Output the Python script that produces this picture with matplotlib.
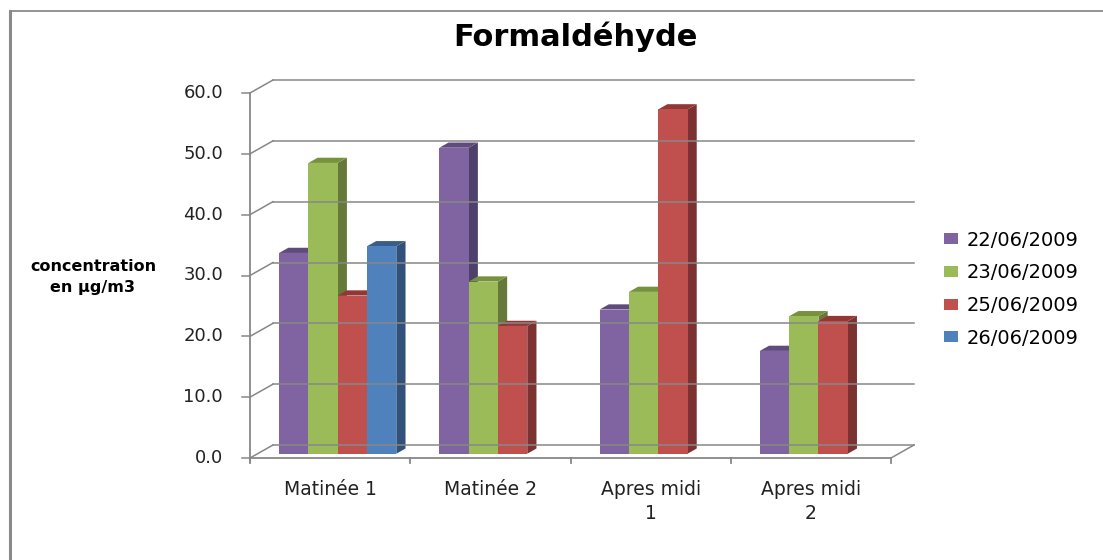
import numpy as np
import matplotlib.pyplot as plt
from matplotlib.patches import Polygon, Rectangle, Patch
from matplotlib.lines import Line2D

plt.rcParams['font.family'] = ['DejaVu Sans']

categories = ['Matinée 1', 'Matinée 2', 'Apres midi\n1', 'Apres midi\n2']
dates = ['22/06/2009', '23/06/2009', '25/06/2009', '26/06/2009']
values = {
    '22/06/2009': [33.0, 50.3, 23.7, 16.9],
    '23/06/2009': [47.8, 28.3, 26.6, 22.6],
    '25/06/2009': [26.0, 21.0, 56.6, 21.8],
    '26/06/2009': [34.1, None, None, None],
}
y_ticks = np.arange(0, 61, 10)

front_col = ['#8064A2', '#9BBB59', '#C0504D', '#4F81BD']
side_col = ['#4F3F6B', '#66793A', '#7B3231', '#30527A']
top_col = ['#5F4B7C', '#76923C', '#943634', '#385D8A']
grid_col = '#878787'

W, H = 1103, 560
fig = plt.figure(figsize=(W / 100, H / 100), dpi=100)
fig.patch.set_facecolor('white')

# front plane of the 3D box, in pixels
x_left, x_right, y_bot, y_top = 250, 891, 458, 93
ax = fig.add_axes([x_left / W, (H - y_bot) / H, (x_right - x_left) / W, (y_bot - y_top) / H])
ax.set_xlim(0, len(categories))
ax.set_ylim(0, 60)
ax.axis('off')

px_x = (x_right - x_left) / len(categories)
px_y = (y_bot - y_top) / 60.0
DX, DY = 23 / px_x, 13 / px_y      # depth offset of the back wall

# back wall gridlines + diagonals on the side wall
for v in y_ticks:
    ax.add_line(Line2D([DX, len(categories) + DX], [v + DY, v + DY], color=grid_col, lw=1.1, clip_on=False))
    ax.add_line(Line2D([0, DX], [v, v + DY], color=grid_col, lw=1.1, clip_on=False))
    ax.add_line(Line2D([-8 / px_x, 0], [v, v], color=grid_col, lw=1.1, clip_on=False))
    ax.text(-27 / px_x, v, f'{v:.1f}', ha='right', va='center', fontsize=13, color='#222222')

# front axes + floor edge
ax.add_line(Line2D([0, 0], [-4 / px_y, 60], color=grid_col, lw=1.3, clip_on=False))
ax.add_line(Line2D([0, len(categories)], [0, 0], color=grid_col, lw=1.3, clip_on=False))
ax.add_line(Line2D([len(categories), len(categories) + DX], [0, DY], color=grid_col, lw=1.1, clip_on=False))
for i in range(len(categories) + 1):
    ax.add_line(Line2D([i, i], [0, -5 / px_y], color=grid_col, lw=1.3, clip_on=False))

for i, cat in enumerate(categories):
    ax.text(i + 0.5, -22 / px_y, cat, ha='center', va='top', fontsize=13.5,
            color='#222222', linespacing=1.35)

# 3D columns
n = len(dates)
bw = 29.3 / px_x
f0, f1 = 0.33, 0.40
base = f0 * DY
sdx, sdy = f1 * DX, f1 * DY
for i in range(len(categories)):
    start = i + 0.5 - n * bw / 2 + f0 * DX
    for j, d in enumerate(dates):
        v = values[d][i]
        if v is None:
            continue
        x0 = start + j * bw
        x1 = x0 + bw
        top = base + v
        ax.add_patch(Polygon([(x1, base), (x1 + sdx, base + sdy), (x1 + sdx, top + sdy), (x1, top)],
                             closed=True, fc=side_col[j], ec='none', clip_on=False))
        ax.add_patch(Polygon([(x0, top), (x1, top), (x1 + sdx, top + sdy), (x0 + sdx, top + sdy)],
                             closed=True, fc=top_col[j], ec='none', clip_on=False))
        ax.add_patch(Rectangle((x0, base), bw, v, fc=front_col[j], ec='none', clip_on=False))

# legend
handles = [Patch(facecolor=front_col[j], edgecolor='none', label=d) for j, d in enumerate(dates)]
fig.legend(handles=handles, loc='upper left', bbox_to_anchor=(936 / W, 1 - 223 / H),
           frameon=False, fontsize=14, handlelength=0.75, handleheight=0.5,
           handletextpad=0.45, labelspacing=0.7, borderaxespad=0)

fig.text(575 / W, 1 - 37 / H, 'Formaldéhyde', ha='center', va='center', fontsize=22, fontweight='bold')
fig.text(93 / W, 1 - 277 / H, 'concentration\nen µg/m3', ha='center', va='center',
         fontsize=11.5, fontweight='bold', linespacing=1.45)

# chart area border (top and left edges)
fig.add_artist(Line2D([10 / W, 1], [1 - 11 / H, 1 - 11 / H], color='#8a8a8a', lw=1.3))
fig.add_artist(Line2D([10 / W, 10 / W], [0, 1 - 11 / H], color='#8a8a8a', lw=2.2))

fig.savefig('out.png', dpi=100)
